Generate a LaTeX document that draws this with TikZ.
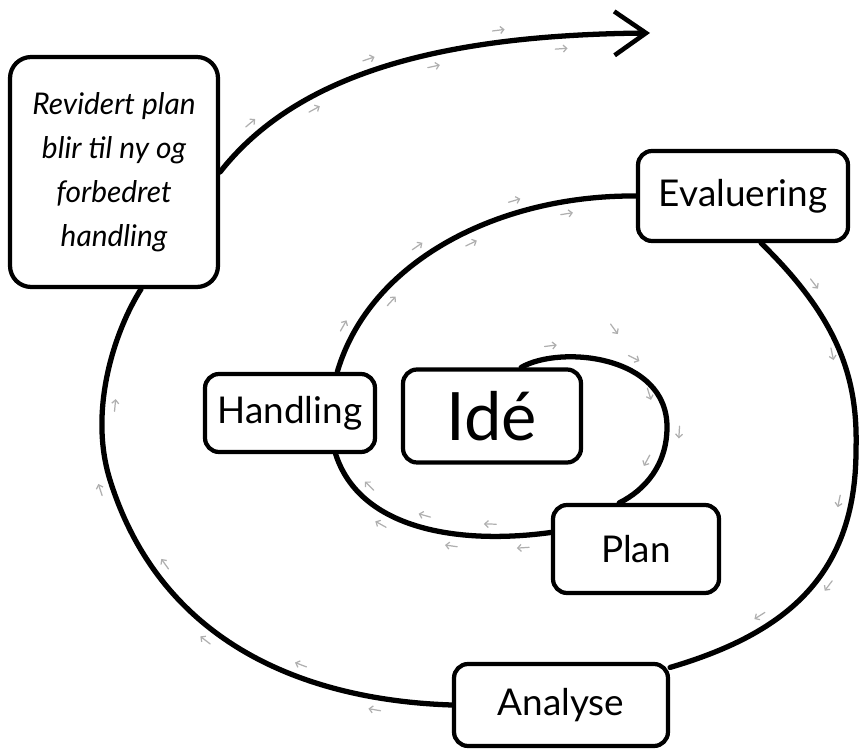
\documentclass[tikz,border=0pt]{standalone}
\usepackage{fontspec}
\setmainfont{Lato}
\usepackage{tikz}
\usetikzlibrary{arrows.meta,decorations.markings}
\definecolor{trailgray}{RGB}{175,175,175}

\begin{document}
\begin{tikzpicture}[x=0.02cm, y=-0.02cm,
    stage/.style={draw, line width=2.4pt, fill=white, rounded corners=8pt,
      font=\fontsize{21}{25}\selectfont},
    spiral/.style={line width=3pt, line cap=round,
      postaction={decorate, decoration={markings,
        mark=between positions 0.12 and 0.95 step 0.28 with
          {\draw[trail] (-4pt,7pt) -- (3pt,7pt);},
        mark=between positions 0.25 and 0.95 step 0.28 with
          {\draw[trail] (-4pt,-7pt) -- (3pt,-7pt);}}}},
    trail/.style={trailgray, line width=0.7pt, -{Straight Barb[length=2pt,width=4pt]}}]
  \useasboundingbox (0,0) rectangle (862,749);

  % Nodes
  \node[stage, minimum width=4.16cm, minimum height=4.6cm, rounded corners=12pt,
    align=center, font=\fontsize{17}{25}\selectfont\itshape] (revid) at (114,172)
    {Revidert plan\\blir til ny og\\forbedret\\handling};
  \node[stage, minimum width=4.2cm, minimum height=1.8cm] (evalu) at (743,196) {Evaluering};
  \node[stage, minimum width=3.4cm, minimum height=1.56cm] (handl) at (290,413) {Handling};
  \node[stage, minimum width=3.56cm, minimum height=1.86cm,
    font=\fontsize{38}{42}\selectfont] (idea) at (492,416) {Idé};
  \node[stage, minimum width=3.32cm, minimum height=1.76cm] (plan) at (636,549) {Plan};
  \node[stage, minimum width=4.28cm, minimum height=1.64cm] (analy) at (561,705) {Analyse};
  \coordinate (exit) at (650,33);

  % Edges
  \draw[spiral] (idea.59) .. controls (560,345) and (667,355) .. (667,427)
    .. controls (667,465) and (645,490) .. (plan.110);
  \draw[spiral] (plan.169) .. controls (460,545) and (360,530) .. (handl.-42);
  \draw[spiral] (handl.41) .. controls (370,260) and (500,195) .. (evalu.west);
  \draw[spiral] (evalu.-69) .. controls (840,320) and (858,380) .. (856,450)
    .. controls (856,580) and (780,635) .. (analy.19);
  \draw[spiral] (analy.west) .. controls (300,700) and (160,640) .. (110,480)
    .. controls (88,410) and (115,330) .. (revid.-77);
  \draw[spiral, -{Straight Barb[length=18pt,width=25pt,line width=2.6pt]}]
    (revid.east) .. controls (300,70) and (450,35) .. (exit);
\end{tikzpicture}
\end{document}
